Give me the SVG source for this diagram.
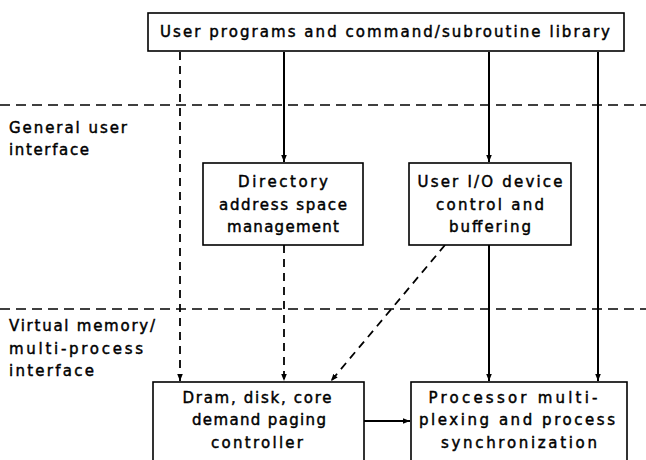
<svg xmlns="http://www.w3.org/2000/svg" width="646" height="460" viewBox="0 0 646 460">
<defs>
<marker id="ah" viewBox="0 0 10 10" refX="10" refY="5" markerWidth="7" markerHeight="7" markerUnits="userSpaceOnUse" orient="auto">
<path d="M0,1 L10,5 L0,9 Z" fill="#000"/>
</marker>
<style>
.box{fill:#fff;stroke:#000;stroke-width:1.6}
.t{font-family:"DejaVu Sans","Liberation Sans",sans-serif;font-size:15px;fill:#000;stroke:#000;stroke-width:0.45}
.c{text-anchor:middle}
.sol{stroke:#000;stroke-width:2;fill:none}
.dsh{stroke:#000;stroke-width:1.8;fill:none;stroke-dasharray:8 6}
.sep{stroke:#000;stroke-width:1.4;fill:none;stroke-dasharray:10 6}
</style>
</defs>
<rect width="646" height="460" fill="#fff"/>
<g id="separators">
<line class="sep" x1="0" y1="105" x2="646" y2="105"/>
<line class="sep" x1="0" y1="309" x2="646" y2="309"/>
<text class="t" x="9" y="133" textLength="118" lengthAdjust="spacing">General user</text>
<text class="t" x="9" y="155" textLength="80" lengthAdjust="spacing">interface</text>
<text class="t" x="9" y="331" textLength="146" lengthAdjust="spacing">Virtual memory/</text>
<text class="t" x="9" y="354" textLength="134" lengthAdjust="spacing">multi-process</text>
<text class="t" x="9" y="376" textLength="85" lengthAdjust="spacing">interface</text>
</g>
<g id="connectors">
<line class="dsh" x1="180" y1="52" x2="180" y2="381" marker-end="url(#ah)"/>
<line class="sol" x1="284" y1="52" x2="284" y2="162" marker-end="url(#ah)"/>
<line class="sol" x1="489" y1="52" x2="489" y2="162" marker-end="url(#ah)"/>
<line class="sol" x1="598" y1="52" x2="598" y2="381" marker-end="url(#ah)"/>
<line class="dsh" x1="284" y1="245" x2="284" y2="381" marker-end="url(#ah)"/>
<line class="dsh" x1="445" y1="245" x2="331" y2="381" marker-end="url(#ah)"/>
<line class="sol" x1="489" y1="245" x2="489" y2="381" marker-end="url(#ah)"/>
<line class="sol" x1="364" y1="421" x2="410" y2="421" marker-end="url(#ah)"/>
</g>
<g id="top">
<rect class="box" x="148" y="13" width="476" height="38"/>
<text class="t c" x="385" y="37" textLength="450" lengthAdjust="spacing">User programs and command/subroutine library</text>
</g>
<g id="directory">
<rect class="box" x="203" y="163" width="160" height="82"/>
<text class="t c" x="283" y="187" textLength="90" lengthAdjust="spacing">Directory</text>
<text class="t c" x="283" y="210" textLength="128" lengthAdjust="spacing">address space</text>
<text class="t c" x="283" y="232" textLength="112" lengthAdjust="spacing">management</text>
</g>
<g id="userio">
<rect class="box" x="409" y="163" width="162" height="82"/>
<text class="t c" x="490" y="187" textLength="145" lengthAdjust="spacing">User I/O device</text>
<text class="t c" x="490" y="210" textLength="108" lengthAdjust="spacing">control and</text>
<text class="t c" x="490" y="232" textLength="82" lengthAdjust="spacing">buffering</text>
</g>
<g id="paging">
<rect class="box" x="153" y="382" width="211" height="90"/>
<text class="t c" x="257" y="403" textLength="149" lengthAdjust="spacing">Dram, disk, core</text>
<text class="t c" x="259" y="425" textLength="134" lengthAdjust="spacing">demand paging</text>
<text class="t c" x="257" y="448" textLength="92" lengthAdjust="spacing">controller</text>
</g>
<g id="processor">
<rect class="box" x="411" y="382" width="216" height="90"/>
<text class="t c" x="513" y="403" textLength="169" lengthAdjust="spacing">Processor multi-</text>
<text class="t c" x="517" y="425" textLength="196" lengthAdjust="spacing">plexing and process</text>
<text class="t c" x="519" y="448" textLength="156" lengthAdjust="spacing">synchronization</text>
</g>
</svg>
